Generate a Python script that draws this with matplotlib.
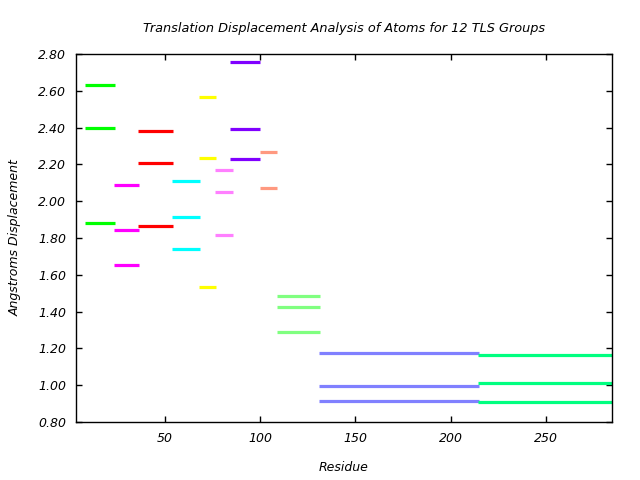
import matplotlib
matplotlib.use("Agg")
import matplotlib.pyplot as plt

# residue ranges of each TLS group and its three displacement values
starts = [8, 23.5, 35.6, 53.5, 67.7, 76.5, 84.4, 100, 108.6, 130.7, 214.5]
ends = [24, 36.2, 54, 68.2, 76.9, 85.5, 100, 109, 131.2, 215, 285]
values = [
    [2.63, 2.40, 1.88],
    [2.086, 1.842, 1.652],
    [2.38, 2.206, 1.864],
    [2.108, 1.912, 1.739],
    [2.565, 2.233, 1.532],
    [2.168, 2.048, 1.815],
    [2.755, 2.391, 2.228],
    [2.266, 2.07],
    [1.483, 1.423, 1.289],
    [1.173, 0.994, 0.912],
    [1.163, 1.009, 0.909],
]
colors = ["#00ff00", "#ff00ff", "#ff0000", "#00ffff", "#ffff00", "#ff80ff",
          "#8000ff", "#ff9980", "#80ff80", "#8080ff", "#00ff80"]

plt.rcParams['font.family'] = 'DejaVu Sans'
plt.rcParams['font.style'] = 'italic'

fig = plt.figure(figsize=(6.4, 4.8), dpi=100)
ax = fig.add_axes([0.119, 0.121, 0.837, 0.7665])

for x0, x1, vals, c in zip(starts, ends, values, colors):
    ax.hlines(vals, x0, x1, colors=c, linewidth=2.3)

ax.set_xlim(3.4, 284.6)
ax.set_ylim(0.8, 2.8)
ax.set_xticks([50, 100, 150, 200, 250])
ax.set_yticks([0.8 + 0.2 * i for i in range(11)])
ax.yaxis.set_major_formatter(matplotlib.ticker.FormatStrFormatter('%.2f'))
ax.tick_params(direction='in', top=True, right=True, length=4, width=1,
               labelsize=9, pad=7)
for s in ax.spines.values():
    s.set_linewidth(1.0)

ax.set_title("Translation Displacement Analysis of Atoms for 12 TLS Groups",
             fontsize=9.3, style='italic', pad=16)
ax.set_xlabel("Residue", fontsize=9, style='italic', labelpad=12)
ax.set_ylabel("Angstroms Displacement", fontsize=9, style='italic', labelpad=12)

fig.savefig("out.png", dpi=100)
